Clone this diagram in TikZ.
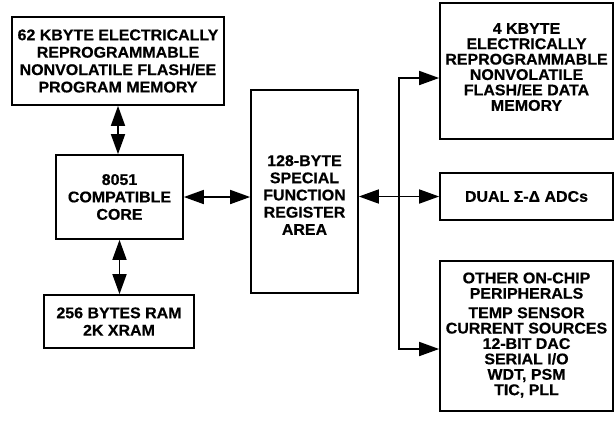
\documentclass[tikz,border=0pt]{standalone}
\usepackage{fontspec}
\setmainfont{Liberation Sans}[FakeStretch=1.03,BoldFeatures={FakeBold=0.5}]
\usetikzlibrary{arrows.meta,calc}
\begin{document}
\begin{tikzpicture}[x=1pt,y=-1pt,
  blk/.style={draw=black,line width=1.7pt,fill=white,align=center,inner sep=0pt,
    font=\bfseries\fontsize{15.5}{17.4}\selectfont},
  tight/.style={font=\bfseries\fontsize{15.5}{15.4}\selectfont},
  conn/.style={line width=1.7pt},
  >={Triangle[length=20pt,width=14pt]}
]
\useasboundingbox (0,0) rectangle (615,421);
\node[blk,minimum width=212pt,minimum height=88pt] (b1) at (118,61)
  {62 KBYTE ELECTRICALLY\\REPROGRAMMABLE\\NONVOLATILE FLASH/EE\\PROGRAM MEMORY};
\node[blk,minimum width=127pt,minimum height=84pt] (core) at (119.5,197)
  {8051\\COMPATIBLE\\CORE};
\node[blk,minimum width=150pt,minimum height=53pt] (ram) at (119,321.5)
  {256 BYTES RAM\\2K XRAM};
\node[blk,minimum width=107pt,minimum height=203pt] (sfr) at (304.5,191.5) {};
\node[align=center,inner sep=0pt,font=\bfseries\fontsize{15.5}{17.2}\selectfont] (sfrt) at (304.5,195)
  {128-BYTE\\SPECIAL\\FUNCTION\\REGISTER\\AREA};
\node[blk,minimum width=173pt,minimum height=136pt] (mem4) at (526.5,71) {};
\node[align=center,inner sep=0pt,tight] (mem4t) at (526.5,67)
  {4 KBYTE\\ELECTRICALLY\\REPROGRAMMABLE\\NONVOLATILE\\FLASH/EE DATA\\MEMORY};
\node[blk,minimum width=173pt,minimum height=47pt] (adc) at (526.5,196.5)
  {DUAL Σ-Δ ADCs};
\node[blk,minimum width=173pt,minimum height=150pt] (oth) at (526.5,336) {};
\node[align=center,inner sep=0pt,tight] (otht) at (526.5,335)
  {OTHER ON-CHIP\\PERIPHERALS\\[4pt]TEMP SENSOR\\CURRENT SOURCES\\12-BIT DAC\\SERIAL I/O\\WDT, PSM\\TIC, PLL};
\coordinate (bustop) at (399,78);
\coordinate (busbot) at (399,349);
\draw[conn,<->] (b1.south) -- (b1.south |- core.north);
\draw[conn,<->] (core.south) -- (core.south |- ram.north);
\draw[conn,<->] (core.east) -- (core.east -| sfr.west);
\draw[conn,<->] (sfr.east |- adc.west) -- (adc.west);
\draw[conn,<->] (mem4.west |- bustop) -- (bustop) -- (busbot) -- (oth.west |- busbot);
\end{tikzpicture}
\end{document}
